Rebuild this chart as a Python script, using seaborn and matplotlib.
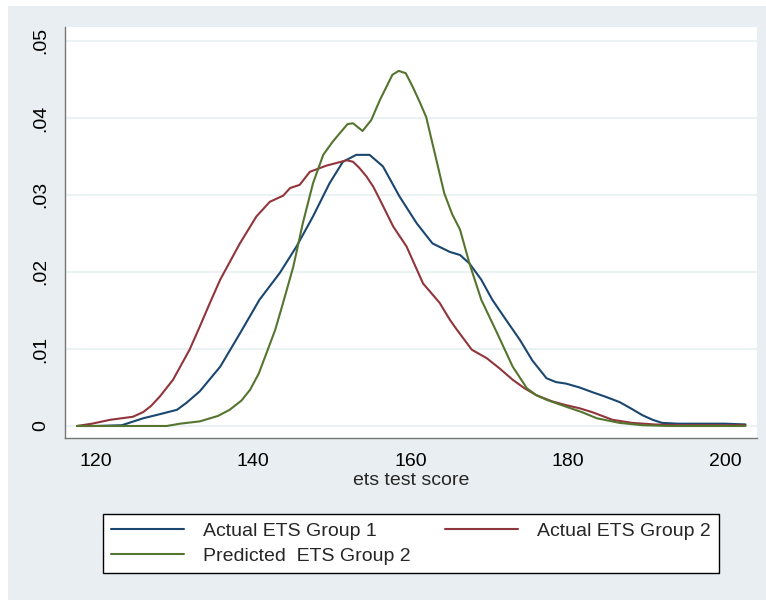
import numpy as np
import pandas as pd
import matplotlib
matplotlib.use("Agg")
import matplotlib.pyplot as plt
import seaborn as sns
from matplotlib.patches import Rectangle

# ---- data (kernel density of test scores) ----
g1_x = [117.6, 120, 123.3, 126, 128, 130.3, 131.5, 133.2, 135.8, 138.3, 140.8, 143.4,
        145.5, 147.6, 149.7, 151.4, 153.1, 154.8, 156.5, 158.6, 160.8, 162.8, 165,
        166.3, 167.5, 169, 170.4, 172, 173.9, 175.5, 177.3, 178.5,
        179.8, 181.5, 183.1, 184.8, 186.6, 188, 189.5, 190.8, 192, 194, 197, 200, 202.6]
g1_y = [0, 0, 0.0001, 0.001, 0.0015, 0.0021, 0.003, 0.0045, 0.0077, 0.012, 0.0164, 0.0199,
        0.0233, 0.0272, 0.0315, 0.0343, 0.0352, 0.0352, 0.0337, 0.0298, 0.0263, 0.0237, 0.0226,
        0.0222, 0.0211, 0.019, 0.0164, 0.014, 0.0112, 0.0085, 0.0062, 0.0057,
        0.0055, 0.005, 0.0044, 0.0038, 0.0031, 0.0023, 0.0014, 0.0008, 0.0004, 0.0003, 0.0003, 0.0003, 0.0002]

g2_x = [117.6, 119.5, 121.8, 124.7, 126, 127, 128.1, 129.8, 131.9, 133.2, 134.5, 135.8, 138.3,
        140.4, 142.1, 143.8, 144.7, 145.9, 147.2, 149.3, 151.9, 152.7, 153.5, 154.4,
        155.3, 156.1, 157.8, 159.5, 161.6, 163.7, 165, 165.9, 167.8, 169.7, 171.3, 173, 174.5,
        176, 178, 179.8, 181.5, 183.1, 185.7, 188.2, 191, 194, 198, 202.6]
g2_y = [0, 0.0003, 0.0008, 0.0012, 0.0018, 0.0026, 0.0038, 0.006, 0.0099, 0.0129, 0.016, 0.019, 0.0237,
        0.0272, 0.0291, 0.0299, 0.0309, 0.0313, 0.033, 0.0338, 0.0345, 0.0343, 0.0335, 0.0324,
        0.031, 0.0294, 0.0259, 0.0233, 0.0185, 0.016, 0.0138, 0.0125, 0.0099, 0.0088, 0.0075, 0.006, 0.0049,
        0.004, 0.0032, 0.0027, 0.0023, 0.0018, 0.0008, 0.0004, 0.0002, 0.0001, 0.0001, 0.0001]

pr_x = [117.6, 122, 126, 129, 130.7, 133.2, 135.5, 137, 138.5, 139.6, 140.7, 141.7, 142.8, 143.8,
        145.1, 146.3, 147.6, 148.9, 150.1, 151, 152, 152.7, 153.3, 153.9, 155, 156.1, 157.7,
        158.5, 159.4, 160.3, 161.2, 162, 163.3, 164.3, 165.3, 166.3, 167.5, 169, 171, 173, 174.8,
        176, 177.3, 179.8, 181.8, 183.7, 186.6, 189.5, 193, 198, 202.6]
pr_y = [0, 0, 0, 0, 0.0003, 0.0006, 0.0013, 0.0021, 0.0033, 0.0047, 0.0068, 0.0095, 0.0125, 0.016,
        0.0207, 0.0263, 0.0315, 0.0352, 0.0369, 0.038, 0.0392, 0.0393, 0.0388, 0.0383, 0.0397, 0.0423, 0.0456,
        0.0461, 0.0458, 0.044, 0.042, 0.0401, 0.0345, 0.0302, 0.0275, 0.0255, 0.0211, 0.0164, 0.0121, 0.0077, 0.0049,
        0.004, 0.0034, 0.0025, 0.0018, 0.001, 0.0004, 0.0001, 0, 0, 0]

labels = ["Actual ETS Group 1", "Actual ETS Group 2", "Predicted  ETS Group 2"]
colors = ["#1a476f", "#90353b", "#55752f"]
xticks = [120, 140, 160, 180, 200]
yticks = [0, 0.01, 0.02, 0.03, 0.04, 0.05]
ytick_labels = ["0", ".01", ".02", ".03", ".04", ".05"]

df = pd.concat([
    pd.DataFrame({"score": g1_x, "density": g1_y, "series": labels[0]}),
    pd.DataFrame({"score": g2_x, "density": g2_y, "series": labels[1]}),
    pd.DataFrame({"score": pr_x, "density": pr_y, "series": labels[2]}),
], ignore_index=True)

sns.set_style("white")
plt.rcParams["font.family"] = ["Liberation Sans", "DejaVu Sans"]

fig = plt.figure(figsize=(7.66, 6.0), dpi=100, facecolor="white")
# Stata-like outer panel
fig.add_artist(Rectangle((8 / 766, 0), 1 - 8 / 766, 1 - 6 / 600, transform=fig.transFigure,
                         facecolor="#e8eef1", edgecolor="none", zorder=-10))
ax = fig.add_axes([65 / 766, 1 - 438 / 600, (757 - 65) / 766, (438 - 27) / 600])
ax.set_facecolor("white")

sns.lineplot(data=df, x="score", y="density", hue="series", hue_order=labels,
             palette=dict(zip(labels, colors)), lw=1.5, sort=False, estimator=None,
             legend=False, ax=ax)

ax.set_xlim(116.06, 204.07)
ax.set_ylim(-0.00156, 0.0518)
ax.set_xticks(xticks)
ax.set_yticks(yticks)
ax.set_yticklabels(ytick_labels, rotation=90, va="center")
ax.tick_params(axis="both", direction="out", length=6, width=1, color="#777777",
               labelsize=14, pad=5, labelcolor="black")
ax.grid(axis="y", color="#eaf2f3", lw=1.5)
ax.grid(axis="x", visible=False)
for s in ["top", "right"]:
    ax.spines[s].set_visible(False)
for s in ["left", "bottom"]:
    ax.spines[s].set_color("#777777")
    ax.spines[s].set_linewidth(1)
ax.set_xlabel("ets test score", fontsize=14, labelpad=1)
ax.set_ylabel("")

handles = [plt.Line2D([], [], color=c, lw=1.5) for c in colors]
order = [0, 2, 1]
leg = fig.legend([handles[i] for i in order], [labels[i] for i in order],
                 loc="lower left", bbox_to_anchor=(103 / 766, 1 - 573 / 600, 616 / 766, 67 / 600),
                 mode="expand", ncol=2, fontsize=14, frameon=True, fancybox=False, framealpha=1,
                 facecolor="white", edgecolor="black", handlelength=3.75, handletextpad=1.0,
                 labelspacing=0.4, borderaxespad=0, borderpad=0.4)
leg.get_frame().set_linewidth(1)

fig.savefig("out.png", dpi=100, facecolor=fig.get_facecolor())
